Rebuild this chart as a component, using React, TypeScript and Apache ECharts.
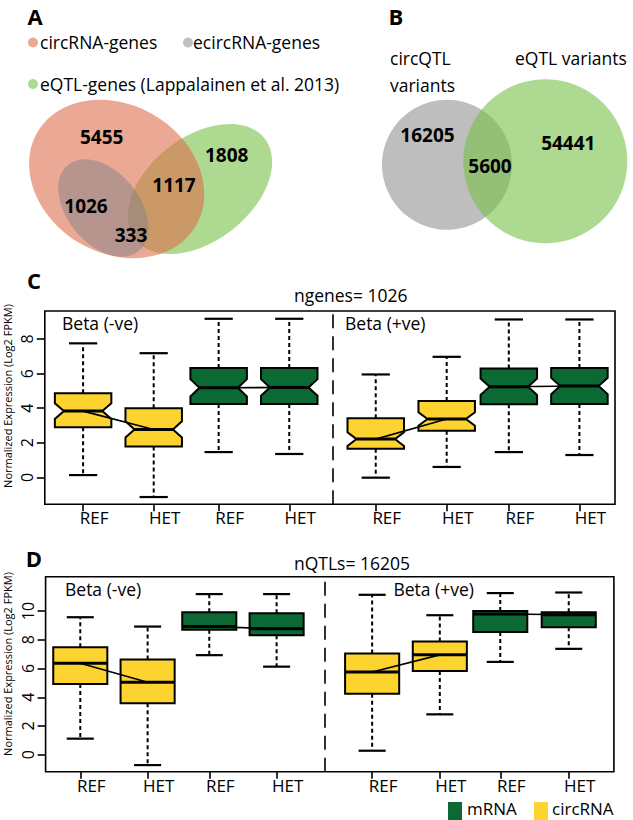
import React, { useEffect, useRef } from "react";
import * as echarts from "echarts";

const FONT = "'Open Sans', 'DejaVu Sans', sans-serif";

// ---------- Panel A (Venn of genes) ----------
const vennALegend = ["circRNA-genes", "ecircRNA-genes", "eQTL-genes (Lappalainen et al. 2013)"];
const vennACounts = [5455, 1808, 1117, 1026, 333];

// ---------- Panel B (Venn of variants) ----------
const vennBLabels = ["circQTL", "variants", "eQTL variants"];
const vennBCounts = [16205, 5600, 54441];

// ---------- Panel C (ngenes = 1026, notched) ----------
const xLabels = ["REF", "HET", "REF", "HET", "REF", "HET", "REF", "HET"];
const boxType = ["circRNA", "circRNA", "mRNA", "mRNA", "circRNA", "circRNA", "mRNA", "mRNA"];
const cTitle = "ngenes= 1026";
const cPositions = [1, 2, 2.92, 3.92, 5.145, 6.15, 7.03, 8.03];
const cDivider = 4.534;
const cWhiskerLow = [0.13, -1.14, 1.46, 1.35, -0.02, 0.6, 1.46, 1.29];
const cQ1 = [2.89, 1.79, 4.24, 4.24, 1.65, 2.69, 4.22, 4.24];
const cMedian = [3.83, 2.77, 5.18, 5.2, 2.21, 3.37, 5.24, 5.28];
const cQ3 = [4.87, 4.0, 6.32, 6.32, 3.41, 4.41, 6.3, 6.32];
const cWhiskerHigh = [7.75, 7.18, 9.17, 9.17, 5.95, 6.97, 9.13, 9.13];
const cNotch = [0.45, 0.47, 0.5, 0.48, 0.4, 0.39, 0.47, 0.47];
const cYTicks = [0, 2, 4, 6, 8];

// ---------- Panel D (nQTLs = 16205, plain) ----------
const dTitle = "nQTLs= 16205";
const dPositions = [1, 1.996, 2.908, 3.904, 5.317, 6.318, 7.212, 8.225];
const dDivider = 4.62;
const dWhiskerLow = [1.12, -0.72, 6.93, 6.13, 0.28, 2.81, 6.46, 7.37];
const dQ1 = [4.93, 3.58, 8.69, 8.32, 4.25, 5.83, 8.55, 8.88];
const dMedian = [6.37, 5.04, 8.92, 8.76, 5.76, 6.95, 9.8, 9.74];
const dQ3 = [7.48, 6.62, 9.92, 9.85, 7.04, 7.88, 10.01, 9.92];
const dWhiskerHigh = [9.57, 8.92, 11.18, 11.18, 11.13, 9.71, 11.25, 11.29];
const dNotch = [0, 0, 0, 0, 0, 0, 0, 0];
const dYTicks = [0, 2, 4, 6, 8, 10];

const legendNames = ["mRNA", "circRNA"];
const yAxisName = "Normalized Expression (Log2 FPKM)";

const YELLOW = "#FDD32F";
const GREEN = "#0B6A33";

function boxSeries(gi: number, pos: number[], lo: number[], q1: number[], med: number[], q3: number[], hi: number[], notch: number[], notched: boolean) {
  const data = pos.map((p, i) => [p, lo[i], q1[i], med[i], q3[i], hi[i], notch[i], boxType[i] === "mRNA" ? 1 : 0]);
  return {
    type: "custom",
    xAxisIndex: gi,
    yAxisIndex: gi,
    z: 2,
    silent: true,
    encode: { x: 0, y: [1, 2, 3, 4, 5] },
    data,
    renderItem: (params: any, api: any) => {
      const x = api.value(0);
      const lo_ = api.value(1), q1_ = api.value(2), md = api.value(3), q3_ = api.value(4), hi_ = api.value(5);
      const nt = api.value(6);
      const kind = api.value(7);
      const xc = api.coord([x, md])[0];
      const xl = api.coord([x - 0.4, md])[0];
      const xr = api.coord([x + 0.4, md])[0];
      const cl = api.coord([x - 0.2, md])[0];
      const cr = api.coord([x + 0.2, md])[0];
      const Y = (v: number) => api.coord([x, v])[1];
      const yLo = Y(lo_), yQ1 = Y(q1_), yMd = Y(md), yQ3 = Y(q3_), yHi = Y(hi_);
      const inset = notched ? (xr - xl) * 0.16 : 0;
      let points: number[][];
      if (notched) {
        const yNt = Y(md + nt), yNb = Y(md - nt);
        points = [
          [xl, yQ3], [xr, yQ3], [xr, yNt], [xr - inset, yMd], [xr, yNb], [xr, yQ1],
          [xl, yQ1], [xl, yNb], [xl + inset, yMd], [xl, yNt],
        ];
      } else {
        points = [[xl, yQ3], [xr, yQ3], [xr, yQ1], [xl, yQ1]];
      }
      const dash = { stroke: "#000", lineWidth: 2, lineDash: [4, 3] };
      const solid = { stroke: "#000", lineWidth: 2.2 };
      return {
        type: "group",
        children: [
          { type: "line", shape: { x1: xc, y1: yQ3, x2: xc, y2: yHi }, style: dash },
          { type: "line", shape: { x1: xc, y1: yQ1, x2: xc, y2: yLo }, style: dash },
          { type: "line", shape: { x1: cl, y1: yHi, x2: cr, y2: yHi }, style: solid },
          { type: "line", shape: { x1: cl, y1: yLo, x2: cr, y2: yLo }, style: solid },
          { type: "polygon", shape: { points }, style: { fill: kind === 1 ? GREEN : YELLOW, stroke: "#000", lineWidth: 2 } },
          { type: "line", shape: { x1: xl + inset, y1: yMd, x2: xr - inset, y2: yMd }, style: { stroke: "#000", lineWidth: 3 } },
        ],
      };
    },
  };
}

// y tick labels, rotated like R's las = 0, placed through the axis scale
function yTickLabelSeries(gi: number, ticks: number[], xMin: number) {
  return {
    type: "custom",
    xAxisIndex: gi,
    yAxisIndex: gi,
    z: 4,
    silent: true,
    clip: false,
    encode: { x: 0, y: 1 },
    data: ticks.map((t) => [xMin, t]),
    renderItem: (params: any, api: any) => {
      const p = api.coord([api.value(0), api.value(1)]);
      return {
        type: "text",
        x: p[0] - 18,
        y: p[1],
        rotation: Math.PI / 2,
        style: {
          text: String(api.value(1)),
          fill: "#000",
          fontSize: 16,
          fontFamily: FONT,
          align: "center",
          verticalAlign: "middle",
        },
      };
    },
  };
}

function medianLines(gi: number, pos: number[], med: number[], divider: number) {
  const out: any[] = [];
  for (let i = 0; i < pos.length; i += 2) {
    const s: any = {
      type: "line",
      xAxisIndex: gi,
      yAxisIndex: gi,
      z: 3,
      symbol: "none",
      silent: true,
      data: [[pos[i], med[i]], [pos[i + 1], med[i + 1]]],
      lineStyle: { color: "#000", width: 1.6 },
    };
    if (i === 0) {
      s.markLine = {
        silent: true,
        symbol: ["none", "none"],
        label: { show: false },
        lineStyle: { color: "#000", width: 1.6, type: [14, 8] },
        data: [{ xAxis: divider }],
      };
    }
    out.push(s);
  }
  return out;
}

function xAxisFor(gi: number, pos: number[], min: number, max: number) {
  return {
    type: "value",
    gridIndex: gi,
    position: "bottom",
    min,
    max,
    axisLine: { show: false, onZero: false },
    splitLine: { show: false },
    axisTick: { show: true, length: 7, lineStyle: { color: "#000", width: 1.6 }, customValues: pos },
    axisLabel: {
      customValues: pos,
      formatter: (v: number) => {
        const i = pos.findIndex((p) => Math.abs(p - v) < 1e-6);
        return i >= 0 ? xLabels[i] : "";
      },
      color: "#000",
      fontSize: 17,
      fontFamily: FONT,
      margin: 5,
      padding: [0, 0, 0, 22],
    },
  };
}

function yAxisFor(gi: number, ticks: number[], min: number, max: number) {
  return {
    type: "value",
    gridIndex: gi,
    position: "left",
    min,
    max,
    axisLine: { show: false, onZero: false },
    splitLine: { show: false },
    axisTick: { show: true, length: 8, lineStyle: { color: "#000", width: 1.6 }, customValues: ticks },
    axisLabel: { show: false },
  };
}

function txt(text: string, x: number, y: number, opts: any = {}) {
  return {
    type: "text",
    x,
    y,
    rotation: opts.rotation || 0,
    style: {
      text,
      fill: "#000",
      fontSize: opts.size || 17.5,
      fontWeight: opts.bold ? "bold" : "normal",
      fontFamily: FONT,
      align: opts.align || "left",
      verticalAlign: "middle",
    },
  };
}

export default function App() {
  const ref = useRef<HTMLDivElement>(null);
  useEffect(() => {
    if (!ref.current) return;
    const chart = echarts.init(ref.current, undefined, { renderer: "svg" });
    const salmon = "rgb(222,110,78)";
    const greenV = "rgb(120,192,70)";
    const grayV = "rgb(130,130,135)";
    const graphic: any[] = [
      // Panel letters
      txt("A", 35, 16, { size: 22, bold: true, align: "center" }),
      txt("B", 396, 16, { size: 22, bold: true, align: "center" }),
      txt("C", 34, 280, { size: 22, bold: true, align: "center" }),
      txt("D", 34, 558, { size: 22, bold: true, align: "center" }),
      // Venn A legend
      { type: "circle", shape: { cx: 33, cy: 42.5, r: 5 }, style: { fill: salmon, opacity: 0.6 } },
      txt(vennALegend[0], 40, 42),
      { type: "circle", shape: { cx: 188, cy: 42.5, r: 5 }, style: { fill: grayV, opacity: 0.5 } },
      txt(vennALegend[1], 193, 42),
      { type: "circle", shape: { cx: 33, cy: 84, r: 5 }, style: { fill: greenV, opacity: 0.6 } },
      txt(vennALegend[2], 40, 84),
      // Venn A shapes
      { type: "ellipse", x: 200, y: 189, rotation: (38 * Math.PI) / 180, shape: { cx: 0, cy: 0, rx: 82, ry: 52 }, style: { fill: greenV, opacity: 0.6 } },
      { type: "ellipse", x: 116.7, y: 179, rotation: (-31 * Math.PI) / 180, shape: { cx: 0, cy: 0, rx: 92, ry: 74 }, style: { fill: salmon, opacity: 0.6 } },
      { type: "ellipse", x: 103.3, y: 208, rotation: (-50.5 * Math.PI) / 180, shape: { cx: 0, cy: 0, rx: 55.7, ry: 36 }, style: { fill: grayV, opacity: 0.5 } },
      txt(String(vennACounts[0]), 101.7, 137, { bold: true, size: 19, align: "center" }),
      txt(String(vennACounts[1]), 226.7, 155, { bold: true, size: 19, align: "center" }),
      txt(String(vennACounts[2]), 174, 185, { bold: true, size: 19, align: "center" }),
      txt(String(vennACounts[3]), 86, 206, { bold: true, size: 19, align: "center" }),
      txt(String(vennACounts[4]), 131, 235, { bold: true, size: 19, align: "center" }),
      // Venn B
      { type: "circle", shape: { cx: 447, cy: 164.7, r: 65 }, style: { fill: "rgb(190,190,190)" } },
      { type: "circle", shape: { cx: 545.3, cy: 161.3, r: 82 }, style: { fill: greenV, opacity: 0.6 } },
      txt(vennBLabels[0], 390, 58),
      txt(vennBLabels[1], 390, 85),
      txt(vennBLabels[2], 515, 58),
      txt(String(vennBCounts[0]), 427.5, 135, { bold: true, size: 19, align: "center" }),
      txt(String(vennBCounts[1]), 490, 166, { bold: true, size: 19, align: "center" }),
      txt(String(vennBCounts[2]), 568.3, 143, { bold: true, size: 19, align: "center" }),
      // Panel titles and annotations
      txt(cTitle, 350.7, 295, { align: "center" }),
      txt(dTitle, 352, 563, { align: "center" }),
      txt("Beta (-ve)", 62, 323),
      txt("Beta (+ve)", 345, 323),
      txt("Beta (-ve)", 65, 589),
      txt("Beta (+ve)", 393.4, 589),
      txt(yAxisName, 7, 396, { size: 11, align: "center", rotation: Math.PI / 2 }),
      txt(yAxisName, 7, 664, { size: 11, align: "center", rotation: Math.PI / 2 }),
      // Legend
      { type: "rect", shape: { x: 448, y: 802, width: 14, height: 18 }, style: { fill: GREEN } },
      txt(legendNames[0], 467, 808.5, { size: 17 }),
      { type: "rect", shape: { x: 534, y: 802, width: 14, height: 18 }, style: { fill: YELLOW } },
      txt(legendNames[1], 552, 808.5, { size: 17 }),
    ];

    const cXMin = 0.4575, cXMax = 8.534, dXMin = 0.487, dXMax = 8.893;
    chart.setOption({
      animation: false,
      backgroundColor: "#fff",
      grid: [
        { left: 44.8, top: 311, width: 570.2, height: 193.3, show: true, borderColor: "#000", borderWidth: 1.6, backgroundColor: "transparent" },
        { left: 45.6, top: 576.7, width: 568.3, height: 195, show: true, borderColor: "#000", borderWidth: 1.6, backgroundColor: "transparent" },
      ],
      xAxis: [xAxisFor(0, cPositions, cXMin, cXMax), xAxisFor(1, dPositions, dXMin, dXMax)],
      yAxis: [yAxisFor(0, cYTicks, -1.56, 9.62), yAxisFor(1, dYTicks, -1.18, 12.39)],
      series: [
        boxSeries(0, cPositions, cWhiskerLow, cQ1, cMedian, cQ3, cWhiskerHigh, cNotch, true),
        ...medianLines(0, cPositions, cMedian, cDivider),
        yTickLabelSeries(0, cYTicks, cXMin),
        boxSeries(1, dPositions, dWhiskerLow, dQ1, dMedian, dQ3, dWhiskerHigh, dNotch, false),
        ...medianLines(1, dPositions, dMedian, dDivider),
        yTickLabelSeries(1, dYTicks, dXMin),
      ],
      graphic,
    });
    return () => chart.dispose();
  }, []);
  return <div ref={ref} style={{ position: "absolute", left: 0, top: 0, width: 633, height: 820, background: "#fff" }} />;
}
